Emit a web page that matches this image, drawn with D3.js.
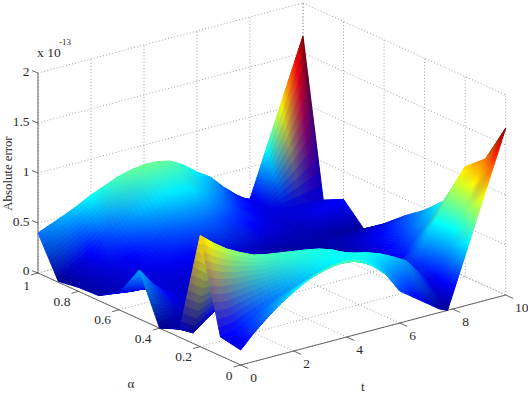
<!DOCTYPE html>
<html>
<head>
<meta charset="utf-8">
<style>
html,body{margin:0;padding:0;background:#fff}
svg{display:block}
text{font-family:"Liberation Serif","Times New Roman",serif;fill:#2a2a2a}
</style>
<script src="https://cdn.jsdelivr.net/npm/d3@7"></script>
</head>
<body>
<svg id="plot" width="528" height="400"></svg>
<script>
// Mesh abscissae along t (the last coarse stretch is one long facet per row)
const tValues = [0,0.5,1,1.5,2,2.5,3,3.5,4,4.5,5,5.5,6,6.5,7,7.5,7.8,8,10];
// Rows of the absolute error (units of 1e-13), one per alpha value
const errAlpha100 = [.40,.455,.51,.57,.64,.695,.75,.785,.805,.80,.77,.695,.59,.505,.37,.255,.20,.18,1.67];
const errAlpha090 = [.01,.09,.17,.26,.35,.43,.50,.55,.59,.60,.59,.52,.43,.33,.24,.18,.16,.15,.12];
const errAlpha080 = [.04,.08,.12,.16,.21,.26,.30,.34,.37,.38,.37,.32,.27,.21,.16,.12,.11,.10,.22];
const errAlpha070 = [.05,.07,.10,.13,.16,.18,.19,.19,.18,.16,.13,.10,.08,.06,.05,.05,.05,.05,.016];
const errAlpha060 = [.17,.15,.15,.14,.13,.12,.11,.10,.09,.08,.07,.06,.05,.05,.04,.04,.04,.04,.16];
const errAlpha050 = [.49,.32,.20,.13,.10,.09,.08,.08,.07,.07,.06,.06,.05,.05,.05,.05,.05,.05,.33];
const errAlpha040 = [0,.04,.07,.09,.10,.10,.10,.09,.09,.08,.08,.10,.15,.18,.19,.16,.11,.07,.48];
const errAlpha030 = [.085,.01,.114,.20,.20,.20,.20,.20,.20,.24,.28,.33,.35,.34,.28,.20,.14,.10,.67];
const errAlpha020 = [1.11,1.0,.906,.836,.776,.746,.726,.706,.686,.661,.616,.541,.456,.38,.326,.29,.28,.276,1.10];
const errAlpha010 = [.19,.215,.29,.355,.41,.455,.50,.555,.60,.625,.65,.645,.60,.535,.46,.305,.20,.12,1.27];
const errAlpha000 = [.15,.285,.40,.505,.59,.665,.72,.75,.76,.725,.64,.515,.32,.225,.13,.035,0,.145,1.67];
const alphaValues = [1,.9,.8,.7,.6,.5,.4,.3,.2,.1,0];
const errorRows = [errAlpha100,errAlpha090,errAlpha080,errAlpha070,errAlpha060,errAlpha050,
                   errAlpha040,errAlpha030,errAlpha020,errAlpha010,errAlpha000];

const tTicks = [0,2,4,6,8,10];
const alphaTicks = [0,.2,.4,.6,.8,1];
const zTicks = [0,.5,1,1.5,2];
const zTickText = ["0","0.5","1","1.5","2"];

// Oblique 3-D projection assembled from linear scales
const tToX = d3.scaleLinear().domain([0,10]).range([240.7,505.7]);
const tToY = d3.scaleLinear().domain([0,10]).range([365,295]);
const aToX = d3.scaleLinear().domain([0,1]).range([0,-202.7]);
const aToY = d3.scaleLinear().domain([0,1]).range([0,-92]);
const zToY = d3.scaleLinear().domain([0,2]).range([0,-200]);
const project = (t,a,z) => [tToX(t)+aToX(a), tToY(t)+aToY(a)+zToY(z)];

// Jet colour map over the data range
const jet = d3.scaleLinear()
  .domain([0,.125,.375,.625,.875,1].map(v => v*1.67))
  .range(["#00008f","#0000ff","#00ffff","#ffff00","#ff0000","#800000"])
  .interpolate(d3.interpolateRgb)
  .clamp(true);

const svg = d3.select("#plot");
const line = d3.line();

// Dotted grid on the floor and on the two back walls
const gridSegments = [];
tTicks.forEach(t => {
  gridSegments.push([project(t,0,0),project(t,1,0)]);
  gridSegments.push([project(t,1,0),project(t,1,2)]);
});
alphaTicks.forEach(a => {
  gridSegments.push([project(0,a,0),project(10,a,0)]);
  gridSegments.push([project(10,a,0),project(10,a,2)]);
});
zTicks.forEach(z => {
  gridSegments.push([project(0,1,z),project(10,1,z)]);
  gridSegments.push([project(10,1,z),project(10,0,z)]);
});
svg.append("g").selectAll("path").data(gridSegments).join("path")
  .attr("d",line).attr("fill","none")
  .attr("stroke","#8a8a8a").attr("stroke-width",.8).attr("stroke-dasharray","1 2.2");

// Axis lines and tick marks
const axisSegments = [
  [project(0,1,0),project(0,1,2)],
  [project(0,1,0),project(0,0,0)],
  [project(0,0,0),project(10,0,0)]
];
zTicks.forEach(z => {
  const p = project(0,1,z);
  axisSegments.push([p,[p[0]-6,p[1]-2.4]]);
});
alphaTicks.forEach(a => {
  const p = project(0,a,0);
  axisSegments.push([p,[p[0]-7,p[1]+1.9]]);
});
tTicks.forEach(t => {
  const p = project(t,0,0);
  axisSegments.push([p,[p[0]+7.5,p[1]+3.4]]);
});
svg.append("g").selectAll("path").data(axisSegments).join("path")
  .attr("d",line).attr("fill","none")
  .attr("stroke","#555").attr("stroke-width",.9);

// Surface facets, painted from the far corner to the near corner.
// Colour follows the map along t and blends in RGB between alpha rows.
const facets = [];
const lerp = (p,q,f) => p+(q-p)*f;
for (let r=0; r<alphaValues.length-1; r++) {
  const stepsA = 12;
  for (let j=tValues.length-2; j>=0; j--) {
    const swing = Math.max(Math.abs(errorRows[r][j+1]-errorRows[r][j]),
                           Math.abs(errorRows[r+1][j+1]-errorRows[r+1][j]));
    const stepsT = Math.max(Math.ceil((tValues[j+1]-tValues[j])*6), Math.ceil(swing*45));
    for (let sa=0; sa<stepsA; sa++) {
      for (let st=stepsT-1; st>=0; st--) {
        const vertex = (u,v) => {
          const t = lerp(tValues[j],tValues[j+1],u);
          const a = lerp(alphaValues[r],alphaValues[r+1],v);
          const z = lerp(lerp(errorRows[r][j],errorRows[r][j+1],u),
                         lerp(errorRows[r+1][j],errorRows[r+1][j+1],u),v);
          return project(t,a,z);
        };
        const u0=st/stepsT,u1=(st+1)/stepsT,v0=sa/stepsA,v1=(sa+1)/stepsA;
        const um=(u0+u1)/2,vm=(v0+v1)/2;
        const colour = d3.interpolateRgb(
          jet(lerp(errorRows[r][j],errorRows[r][j+1],um)),
          jet(lerp(errorRows[r+1][j],errorRows[r+1][j+1],um)))(vm);
        facets.push({pts:[vertex(u0,v0),vertex(u1,v0),vertex(u1,v1),vertex(u0,v1)],colour});
      }
    }
  }
}
svg.append("g").selectAll("path").data(facets).join("path")
  .attr("d",d => line(d.pts)+"Z")
  .attr("fill",d => d.colour)
  .attr("stroke",d => d.colour)
  .attr("stroke-width",1)
  .attr("stroke-linejoin","round");

// Tick labels
const labelSize = 13.5;
const labels = svg.append("g").attr("font-size",labelSize).attr("text-anchor","middle");
zTicks.forEach((z,i) => {
  const p = project(0,1,z);
  labels.append("text").text(zTickText[i])
    .attr("x",29.5).attr("y",p[1]+(z===0?2:3)).attr("text-anchor","end");
});
alphaTicks.forEach(a => {
  const p = project(0,a,0);
  const single = (a===0||a===1);
  labels.append("text").text(String(a))
    .attr("x",p[0]+(single?-11.5:-16.5)).attr("y",p[1]+(a===1?17:14.5));
});
tTicks.forEach(t => {
  const p = project(t,0,0);
  labels.append("text").text(String(t))
    .attr("x",p[0]+(t===10?16:13)).attr("y",p[1]+16.5);
});

// Axis titles and the exponent note
labels.append("text").text("α").attr("x",131).attr("y",387.5).attr("font-size",13);
labels.append("text").text("t").attr("x",363).attr("y",391);
svg.append("text").text("Absolute error")
  .attr("transform","translate(11.8,173.5) rotate(-90)")
  .attr("text-anchor","middle").attr("font-size",12.8);
svg.append("text").text("x 10").attr("x",37).attr("y",56.5).attr("font-size",13.5);
svg.append("text").text("-13").attr("x",59).attr("y",45).attr("font-size",9);
</script>
</body>
</html>
